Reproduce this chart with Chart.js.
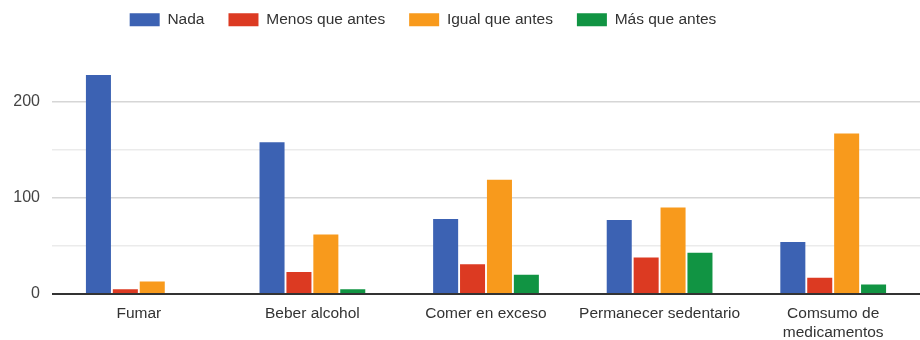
<!DOCTYPE html>
<html>
<head>
<meta charset="utf-8">
<script src="https://cdn.jsdelivr.net/npm/chart.js@4"></script>
<style>
  body { margin: 0; background: #fff; }
  #wrap { width: 920px; height: 340px; }
</style>
</head>
<body>
<div id="wrap"><canvas id="myChart"></canvas></div>
<script>
var categories = ["Fumar", "Beber alcohol", "Comer en exceso", "Permanecer sedentario", ["Comsumo de", "medicamentos"]];
var seriesNames = ["Nada", "Menos que antes", "Igual que antes", "Más que antes"];
var nada = [228, 158, 78, 77, 54];
var menos = [5, 23, 31, 38, 17];
var igual = [13, 62, 119, 90, 167];
var mas = [0, 5, 20, 43, 10];
var yTicks = [0, 100, 200];

var barColors = ["#3c62b3", "#dc3a22", "#f89a1c", "#119443"];
var values = [nada, menos, igual, mas];

var datasets = [];
for (var i = 0; i < seriesNames.length; i++) {
  datasets.push({
    label: seriesNames[i],
    data: values[i],
    backgroundColor: barColors[i],
    barPercentage: 0.93,
    categoryPercentage: 0.62
  });
}

// nudge the legend a bit left, like the original
var legendShift = {
  id: "legendShift",
  afterLayout: function(chart) {
    chart.legend.left -= 37;
    chart.legend.right -= 37;
  }
};

Chart.defaults.font.family = "'Liberation Sans', Arial, sans-serif";
Chart.defaults.color = "#444";

new Chart("myChart", {
  type: "bar",
  data: {
    labels: categories,
    datasets: datasets
  },
  plugins: [legendShift],
  options: {
    responsive: true,
    maintainAspectRatio: false,
    animation: false,
    layout: { padding: { top: -12, right: 0, bottom: 0, left: 0 } },
    plugins: {
      legend: {
        position: "top",
        labels: {
          boxWidth: 30,
          boxHeight: 13,
          padding: 24,
          color: "#333",
          font: { size: 15.5 }
        }
      },
      tooltip: { enabled: false }
    },
    scales: {
      x: {
        afterFit: function(scale) { scale.height = 46; },
        grid: { display: false },
        border: { display: false },
        ticks: {
          color: "#333",
          font: { size: 15.5, lineHeight: 1.22 },
          padding: 2,
          maxRotation: 0,
          autoSkip: false
        }
      },
      y: {
        min: 0,
        max: 267,
        afterFit: function(scale) { scale.width = 52; },
        border: { display: false },
        grid: {
          drawTicks: false,
          color: function(ctx) {
            var v = ctx.tick.value;
            if (v === 0) return "#333";
            if (v > 200) return "rgba(0,0,0,0)";
            if (v % 100 === 0) return "#d6d6d6";
            return "#ebebeb";
          },
          lineWidth: function(ctx) {
            return ctx.tick.value === 0 ? 2 : 1.5;
          }
        },
        ticks: {
          stepSize: 50,
          color: "#444",
          font: { size: 16 },
          padding: 12,
          callback: function(v) {
            return yTicks.indexOf(v) >= 0 ? v : "";
          }
        }
      }
    }
  }
});
</script>
</body>
</html>
